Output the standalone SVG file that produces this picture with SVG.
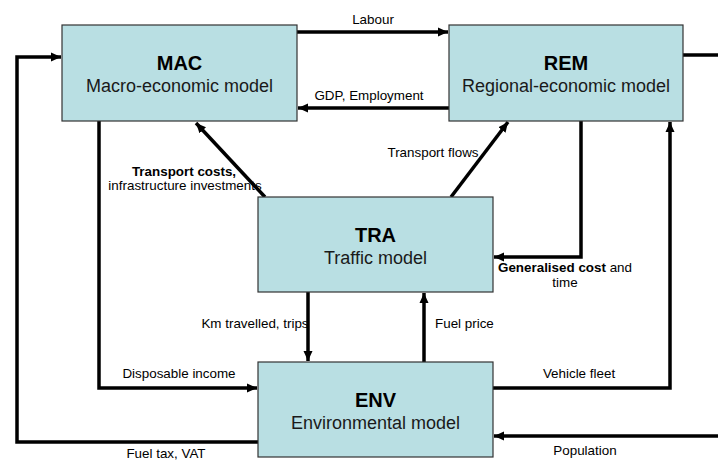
<svg xmlns="http://www.w3.org/2000/svg" width="718" height="461" viewBox="0 0 718 461">
<defs>
<style>
.box{fill:#B9DFE3;stroke:#333;stroke-width:1.2}
.t{font-family:"Liberation Sans",Arial,sans-serif;font-weight:bold;font-size:20px;fill:#000;text-anchor:middle}
.s{font-family:"Liberation Sans",Arial,sans-serif;font-size:18px;fill:#1a1a1a;text-anchor:middle}
.c{fill:none;stroke:#000;stroke-width:3.5}
.l{font-family:"Liberation Sans",Arial,sans-serif;font-size:13.4px;fill:#000}
.b{font-weight:bold}
.m{text-anchor:middle}
</style>
<marker id="ah" markerUnits="userSpaceOnUse" markerWidth="11" markerHeight="10" refX="10" refY="5" orient="auto">
<path d="M0,0.5 L10,5 L0,9.5 z" fill="#000"/>
</marker>
</defs>
<g id="connectors">
<line class="c" x1="297" y1="32" x2="448" y2="32" marker-end="url(#ah)"/>
<line class="c" x1="449" y1="108" x2="298" y2="108" marker-end="url(#ah)"/>
<polyline class="c" points="258,442 17,442 17,57 61,57" marker-end="url(#ah)"/>
<polyline class="c" points="99,121 99,388 257,388" marker-end="url(#ah)"/>
<line class="c" x1="265" y1="197" x2="196" y2="123" marker-end="url(#ah)"/>
<line class="c" x1="451" y1="197" x2="508" y2="122" marker-end="url(#ah)"/>
<polyline class="c" points="581,121 581,257 494,257" marker-end="url(#ah)"/>
<polyline class="c" points="493,388 670,388 670,122" marker-end="url(#ah)"/>
<line class="c" x1="683" y1="55" x2="718" y2="55"/>
<line class="c" x1="718" y1="436" x2="494" y2="436" marker-end="url(#ah)"/>
<line class="c" x1="308" y1="292" x2="308" y2="361" marker-end="url(#ah)"/>
<line class="c" x1="424" y1="362" x2="424" y2="293" marker-end="url(#ah)"/>
<text class="l m" x="373" y="24">Labour</text>
<text class="l m" x="369" y="100">GDP, Employment</text>
<text class="l m b" x="184" y="176">Transport costs,</text>
<text class="l m" x="185" y="190">infrastructure investments</text>
<text class="l m" x="433" y="157">Transport flows</text>
<text class="l m" x="565" y="272"><tspan class="b">Generalised cost</tspan> and</text>
<text class="l m" x="565" y="287">time</text>
<text class="l m" x="255" y="328">Km travelled, trips</text>
<text class="l" x="435" y="328">Fuel price</text>
<text class="l m" x="179" y="378">Disposable income</text>
<text class="l m" x="579" y="378">Vehicle fleet</text>
<text class="l m" x="166" y="458">Fuel tax, VAT</text>
<text class="l m" x="585" y="455">Population</text>
</g>
<g id="MAC">
<rect class="box" x="62" y="25" width="235" height="96"/>
<text class="t" x="179.5" y="70">MAC</text>
<text class="s" x="179.5" y="92">Macro-economic model</text>
</g>
<g id="REM">
<rect class="box" x="449" y="25" width="234" height="96"/>
<text class="t" x="566" y="70">REM</text>
<text class="s" x="566" y="92">Regional-economic model</text>
</g>
<g id="TRA">
<rect class="box" x="258" y="197" width="235" height="95"/>
<text class="t" x="375.5" y="242">TRA</text>
<text class="s" x="375.5" y="264">Traffic model</text>
</g>
<g id="ENV">
<rect class="box" x="258" y="362" width="235" height="95"/>
<text class="t" x="375.5" y="407">ENV</text>
<text class="s" x="375.5" y="429">Environmental model</text>
</g>
</svg>
